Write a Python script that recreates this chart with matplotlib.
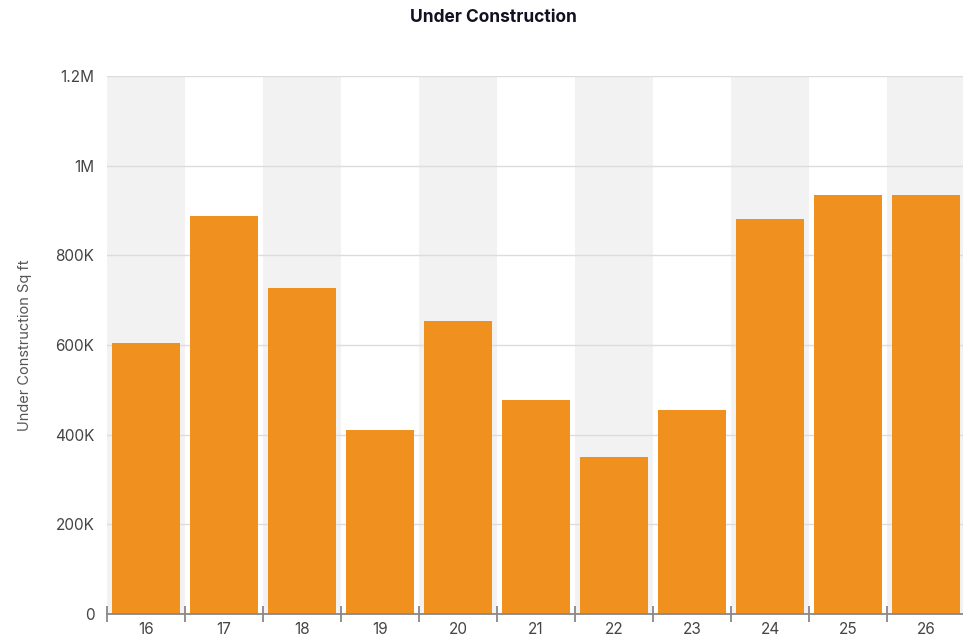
import matplotlib
matplotlib.use("Agg")
import matplotlib.pyplot as plt
from matplotlib.ticker import FixedLocator

plt.rcParams['font.family'] = ['Inter', 'DejaVu Sans']

categories = ["16", "17", "18", "19", "20", "21", "22", "23", "24", "25", "26"]
values = [605000, 888000, 727000, 411000, 654000, 477000, 350000, 455000, 881000, 935000, 935000]
yticks = [0, 200000, 400000, 600000, 800000, 1000000, 1200000]
ytick_labels = ["0", "200K", "400K", "600K", "800K", "1M", "1.2M"]

fig = plt.figure(figsize=(9.63, 6.37), dpi=100)
ax = fig.add_axes([107/963, 1-614/637, 858/963, 538/637])

x = list(range(len(categories)))
for i in x:
    if i % 2 == 0:
        ax.axvspan(i-0.5, i+0.5, color='#f2f2f2', zorder=0, lw=0)

for yv in yticks[1:]:
    ax.axhline(yv, color='#dcdcdc', lw=1, zorder=1)

ax.bar(x, values, width=0.87, color='#f0901f', zorder=2)

ax.set_xlim(-0.5, len(categories)-0.5)
ax.set_ylim(0, 1200000)
ax.set_yticks(yticks)
ax.set_yticklabels(ytick_labels)
ax.set_xticks(x)
ax.set_xticklabels(categories)
ax.xaxis.set_minor_locator(FixedLocator([i-0.5 for i in range(len(categories)+1)]))
ax.tick_params(axis='x', which='major', length=0, pad=6, labelsize=11, labelcolor='#444444')
ax.tick_params(axis='x', which='minor', length=12, direction='inout', color='#888888', width=1.3)
ax.tick_params(axis='y', length=0, pad=9, labelsize=11, labelcolor='#444444')

for s in ['top', 'right', 'left']:
    ax.spines[s].set_visible(False)
ax.spines['bottom'].set_color('#888888')
ax.spines['bottom'].set_linewidth(1.3)
ax.spines['bottom'].set_zorder(3)

ax.set_ylabel("Under Construction Sq ft", fontsize=10.5, color='#555555', labelpad=17)
fig.text(493/963, 1-17/637, "Under Construction", ha='center', va='center',
         fontsize=12.5, fontweight='bold', color='#111122')

fig.savefig("out.png", dpi=100)
